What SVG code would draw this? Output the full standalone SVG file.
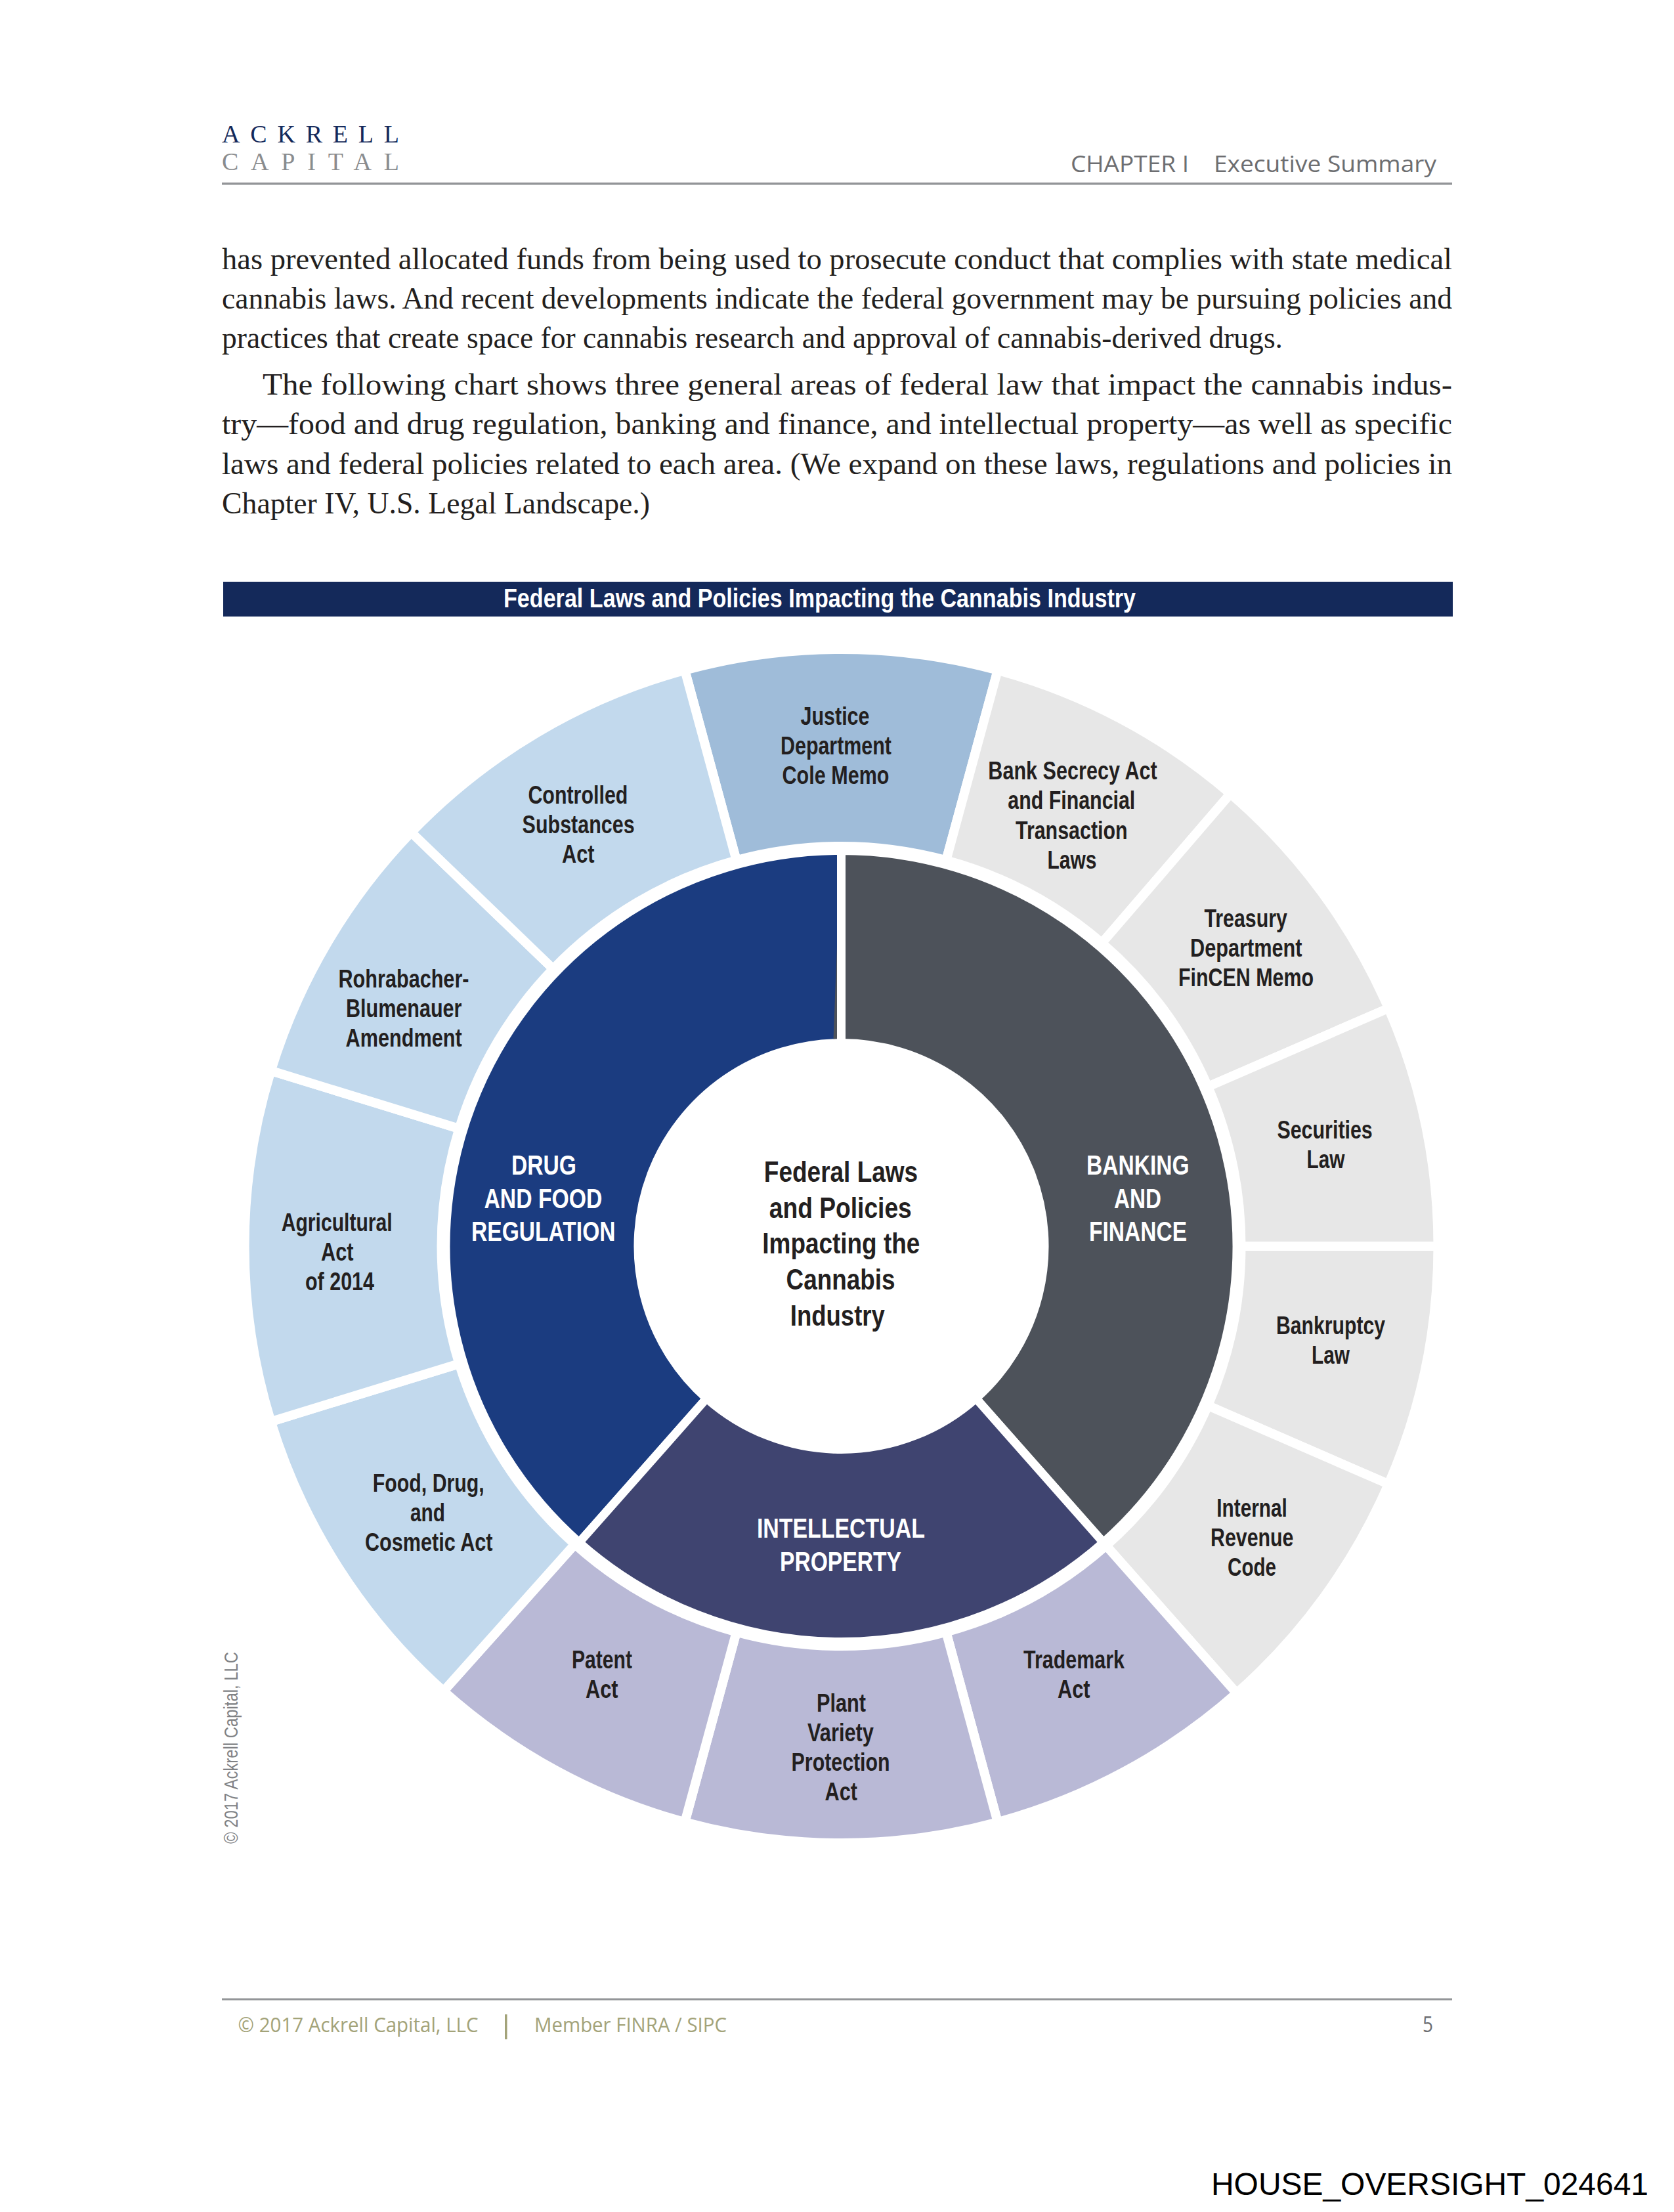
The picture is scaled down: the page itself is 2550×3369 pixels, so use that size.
<svg xmlns="http://www.w3.org/2000/svg" width="2550" height="3369" viewBox="0 0 2550 3369">
<style>
text{font-family:"Liberation Sans",Arial,sans-serif}
.l{font-weight:700;font-size:39px;fill:#231f20}
.w{font-weight:700;font-size:42px;fill:#fff}
.c{font-weight:700;font-size:45px;fill:#231f20}
.b{font-family:"Liberation Serif",serif;font-size:46px;fill:#231f20}
.s{stroke:#fff;stroke-width:14;stroke-linejoin:miter}
.i{stroke:#fff;stroke-width:13;stroke-linejoin:miter}
.sans{font-family:"Open Sans",sans-serif}
.olive{font-family:"Open Sans",sans-serif;font-size:31px;fill:#a3a379}
.logo{font-family:"Liberation Serif",serif;font-size:38px}
.lb{fill:#c2d9ed}.gr{fill:#e7e7e7}.lv{fill:#b9b9d6}
</style>
<rect width="2550" height="3369" fill="#fff"/>
<g id="page-header">
<text class="logo" x="338" y="217" textLength="270" lengthAdjust="spacing" fill="#14295a">ACKRELL</text>
<text class="logo" x="338" y="259" textLength="270" lengthAdjust="spacing" fill="#8a8c8e">CAPITAL</text>
<text class="sans" x="1631" y="262" font-size="34" textLength="180" lengthAdjust="spacingAndGlyphs" fill="#6d6e71">CHAPTER I</text>
<text class="sans" x="1849" y="262" font-size="34" textLength="339" lengthAdjust="spacingAndGlyphs" fill="#6d6e71">Executive Summary</text>
<rect x="338" y="278" width="1874" height="3.5" fill="#939598"/>
</g>
<g id="body-text">
<text class="b" x="338" y="410" textLength="1874" lengthAdjust="spacingAndGlyphs">has prevented allocated funds from being used to prosecute conduct that complies with state medical</text>
<text class="b" x="338" y="470" textLength="1874" lengthAdjust="spacingAndGlyphs">cannabis laws. And recent developments indicate the federal government may be pursuing policies and</text>
<text class="b" x="338" y="530" textLength="1616" lengthAdjust="spacingAndGlyphs">practices that create space for cannabis research and approval of cannabis-derived drugs.</text>
<text class="b" x="400" y="601" textLength="1812" lengthAdjust="spacingAndGlyphs">The following chart shows three general areas of federal law that impact the cannabis indus-</text>
<text class="b" x="338" y="661" textLength="1874" lengthAdjust="spacingAndGlyphs">try—food and drug regulation, banking and finance, and intellectual property—as well as specific</text>
<text class="b" x="338" y="722" textLength="1874" lengthAdjust="spacingAndGlyphs">laws and federal policies related to each area. (We expand on these laws, regulations and policies in</text>
<text class="b" x="338" y="782" textLength="652" lengthAdjust="spacingAndGlyphs">Chapter IV, U.S. Legal Landscape.)</text>
</g>
<g id="title-bar">
<rect x="340" y="886" width="1873" height="53" fill="#14295a"/>
<text x="767" y="925" font-size="40" font-weight="700" fill="#fff" textLength="963" lengthAdjust="spacingAndGlyphs">Federal Laws and Policies Impacting the Cannabis Industry</text>
</g>
<g id="outer-justice"><path class="s" fill="#9fbcd9" d="M1043.2 1020.8A909 909 0 0 1 1519.8 1020.8L1441.2 1310.3A609 609 0 0 0 1121.8 1310.3Z"/>
<text class="l" x="1219.5" y="1104" textLength="105" lengthAdjust="spacingAndGlyphs">Justice</text>
<text class="l" x="1189" y="1149" textLength="169" lengthAdjust="spacingAndGlyphs">Department</text>
<text class="l" x="1191.5" y="1194" textLength="163" lengthAdjust="spacingAndGlyphs">Cole Memo</text></g>
<g id="outer-bank-secrecy"><path class="s gr" d="M1519.8 1020.8A909 909 0 0 1 1874.3 1208.9L1678.6 1436.3A609 609 0 0 0 1441.2 1310.3Z"/>
<text class="l" x="1505.3" y="1187.3" textLength="257.4" lengthAdjust="spacingAndGlyphs">Bank Secrecy Act</text>
<text class="l" x="1535.3" y="1232.4" textLength="194" lengthAdjust="spacingAndGlyphs">and Financial</text>
<text class="l" x="1547" y="1277.5" textLength="170.6" lengthAdjust="spacingAndGlyphs">Transaction</text>
<text class="l" x="1595.4" y="1322.5" textLength="75" lengthAdjust="spacingAndGlyphs">Laws</text></g>
<g id="outer-treasury"><path class="s gr" d="M1874.3 1208.9A909 909 0 0 1 2115.1 1535.6L1840 1655.2A609 609 0 0 0 1678.6 1436.3Z"/>
<text class="l" x="1834.4" y="1411.8" textLength="126.5" lengthAdjust="spacingAndGlyphs">Treasury</text>
<text class="l" x="1813" y="1456.5" textLength="170.6" lengthAdjust="spacingAndGlyphs">Department</text>
<text class="l" x="1795" y="1501.5" textLength="206" lengthAdjust="spacingAndGlyphs">FinCEN Memo</text></g>
<g id="outer-securities"><path class="s gr" d="M2115.1 1535.6A909 909 0 0 1 2190.5 1898L1890.5 1898A609 609 0 0 0 1840 1655.2Z"/>
<text class="l" x="1945.4" y="1734" textLength="145.4" lengthAdjust="spacingAndGlyphs">Securities</text>
<text class="l" x="1990.5" y="1779" textLength="58" lengthAdjust="spacingAndGlyphs">Law</text></g>
<g id="outer-bankruptcy"><path class="s gr" d="M2190.5 1898A909 909 0 0 1 2115.1 2260.4L1840 2140.8A609 609 0 0 0 1890.5 1898Z"/>
<text class="l" x="1944" y="2032" textLength="166" lengthAdjust="spacingAndGlyphs">Bankruptcy</text>
<text class="l" x="1998" y="2077" textLength="58" lengthAdjust="spacingAndGlyphs">Law</text></g>
<g id="outer-irc"><path class="s gr" d="M2115.1 2260.4A909 909 0 0 1 1883.8 2578.8L1685 2354.1A609 609 0 0 0 1840 2140.8Z"/>
<text class="l" x="1853.3" y="2310" textLength="107.6" lengthAdjust="spacingAndGlyphs">Internal</text>
<text class="l" x="1844" y="2355" textLength="126.5" lengthAdjust="spacingAndGlyphs">Revenue</text>
<text class="l" x="1870" y="2400" textLength="74" lengthAdjust="spacingAndGlyphs">Code</text></g>
<g id="outer-trademark"><path class="s lv" d="M1883.8 2578.8A909 909 0 0 1 1519.8 2775.2L1441.2 2485.7A609 609 0 0 0 1685 2354.1Z"/>
<text class="l" x="1559" y="2541" textLength="154" lengthAdjust="spacingAndGlyphs">Trademark</text>
<text class="l" x="1611" y="2586" textLength="49.5" lengthAdjust="spacingAndGlyphs">Act</text></g>
<g id="outer-plant"><path class="s lv" d="M1519.8 2775.2A909 909 0 0 1 1043.2 2775.2L1121.8 2485.7A609 609 0 0 0 1441.2 2485.7Z"/>
<text class="l" x="1244" y="2606.5" textLength="75" lengthAdjust="spacingAndGlyphs">Plant</text>
<text class="l" x="1230" y="2651.5" textLength="101" lengthAdjust="spacingAndGlyphs">Variety</text>
<text class="l" x="1205.6" y="2696.5" textLength="150" lengthAdjust="spacingAndGlyphs">Protection</text>
<text class="l" x="1256.6" y="2741.5" textLength="49.5" lengthAdjust="spacingAndGlyphs">Act</text></g>
<g id="outer-patent"><path class="s lv" d="M1043.2 2775.2A909 909 0 0 1 675.7 2575.7L875.6 2352A609 609 0 0 0 1121.8 2485.7Z"/>
<text class="l" x="871" y="2541" textLength="92" lengthAdjust="spacingAndGlyphs">Patent</text>
<text class="l" x="892" y="2586" textLength="49.5" lengthAdjust="spacingAndGlyphs">Act</text></g>
<g id="outer-fdc"><path class="s lb" d="M675.7 2575.7A909 909 0 0 1 412.7 2165.2L699.4 2077A609 609 0 0 0 875.6 2352Z"/>
<text class="l" x="567.8" y="2272" textLength="170" lengthAdjust="spacingAndGlyphs">Food, Drug,</text>
<text class="l" x="625" y="2317" textLength="53" lengthAdjust="spacingAndGlyphs">and</text>
<text class="l" x="556" y="2362" textLength="194.5" lengthAdjust="spacingAndGlyphs">Cosmetic Act</text></g>
<g id="outer-agricultural"><path class="s lb" d="M412.7 2165.2A909 909 0 0 1 412.7 1630.8L699.4 1719A609 609 0 0 0 699.4 2077Z"/>
<text class="l" x="428.7" y="1875" textLength="169" lengthAdjust="spacingAndGlyphs">Agricultural</text>
<text class="l" x="489" y="1920" textLength="49.5" lengthAdjust="spacingAndGlyphs">Act</text>
<text class="l" x="465" y="1965" textLength="105" lengthAdjust="spacingAndGlyphs">of 2014</text></g>
<g id="outer-rohrabacher"><path class="s lb" d="M412.7 1630.8A909 909 0 0 1 626.5 1267.7L842.7 1475.7A609 609 0 0 0 699.4 1719Z"/>
<text class="l" x="515.5" y="1504" textLength="199" lengthAdjust="spacingAndGlyphs">Rohrabacher-</text>
<text class="l" x="527" y="1549" textLength="176.5" lengthAdjust="spacingAndGlyphs">Blumenauer</text>
<text class="l" x="526.6" y="1594" textLength="177" lengthAdjust="spacingAndGlyphs">Amendment</text></g>
<g id="outer-controlled"><path class="s lb" d="M626.5 1267.7A909 909 0 0 1 1043.2 1020.8L1121.8 1310.3A609 609 0 0 0 842.7 1475.7Z"/>
<text class="l" x="804.4" y="1224" textLength="152" lengthAdjust="spacingAndGlyphs">Controlled</text>
<text class="l" x="795.6" y="1269" textLength="171" lengthAdjust="spacingAndGlyphs">Substances</text>
<text class="l" x="856" y="1314" textLength="49.5" lengthAdjust="spacingAndGlyphs">Act</text></g>
<g id="inner-drug"><path class="i" fill="#1b3c80" d="M1281.5 1295.5A602.5 602.5 0 0 0 882.3 2349.3L1076.4 2129.8A309.5 309.5 0 0 1 1281.5 1588.5Z"/>
<path d="M1275 1440L1275 1582L1269.5 1582.5Z" fill="#4d525a"/>
<text class="w" x="779" y="1789" textLength="99" lengthAdjust="spacingAndGlyphs">DRUG</text>
<text class="w" x="737.5" y="1839.8" textLength="180" lengthAdjust="spacingAndGlyphs">AND FOOD</text>
<text class="w" x="718" y="1890" textLength="219.6" lengthAdjust="spacingAndGlyphs">REGULATION</text></g>
<g id="inner-banking"><path class="i" fill="#4d525a" d="M1281.5 1295.5A602.5 602.5 0 0 1 1680.7 2349.3L1486.6 2129.8A309.5 309.5 0 0 0 1281.5 1588.5Z"/>
<text class="w" x="1655" y="1789" textLength="156.6" lengthAdjust="spacingAndGlyphs">BANKING</text>
<text class="w" x="1697" y="1839.8" textLength="72" lengthAdjust="spacingAndGlyphs">AND</text>
<text class="w" x="1659" y="1890" textLength="149" lengthAdjust="spacingAndGlyphs">FINANCE</text></g>
<g id="inner-ip"><path class="i" fill="#3f4470" d="M1680.7 2349.3A602.5 602.5 0 0 1 882.3 2349.3L1076.4 2129.8A309.5 309.5 0 0 0 1486.6 2129.8Z"/>
<text class="w" x="1152.9" y="2342.2" textLength="256" lengthAdjust="spacingAndGlyphs">INTELLECTUAL</text>
<text class="w" x="1188" y="2392.6" textLength="185" lengthAdjust="spacingAndGlyphs">PROPERTY</text></g>
<g id="center">
<text class="c" x="1163.8" y="1800.3" textLength="234.4" lengthAdjust="spacingAndGlyphs">Federal Laws</text>
<text class="c" x="1171.8" y="1854.6" textLength="217" lengthAdjust="spacingAndGlyphs">and Policies</text>
<text class="c" x="1161.3" y="1909.3" textLength="240" lengthAdjust="spacingAndGlyphs">Impacting the</text>
<text class="c" x="1197.5" y="1964" textLength="166" lengthAdjust="spacingAndGlyphs">Cannabis</text>
<text class="c" x="1203.8" y="2019" textLength="144" lengthAdjust="spacingAndGlyphs">Industry</text>
</g>
<text transform="translate(362 2808) rotate(-90)" font-size="29" fill="#808285" textLength="292" lengthAdjust="spacingAndGlyphs">© 2017 Ackrell Capital, LLC</text>
<g id="page-footer">
<rect x="338" y="3043.5" width="1874" height="3" fill="#939598"/>
<text class="olive" x="362.5" y="3095" textLength="366" lengthAdjust="spacingAndGlyphs">© 2017 Ackrell Capital, LLC</text>
<rect x="769" y="3068" width="3.5" height="38" fill="#a3a379"/>
<text class="olive" x="814" y="3095" textLength="293" lengthAdjust="spacingAndGlyphs">Member FINRA / SIPC</text>
<text class="sans" x="2167" y="3095" font-size="32" fill="#6d6e71" textLength="16" lengthAdjust="spacingAndGlyphs">5</text>
</g>
<text x="1845" y="3343" font-size="48" fill="#000" textLength="666" lengthAdjust="spacingAndGlyphs">HOUSE_OVERSIGHT_024641</text>
</svg>
